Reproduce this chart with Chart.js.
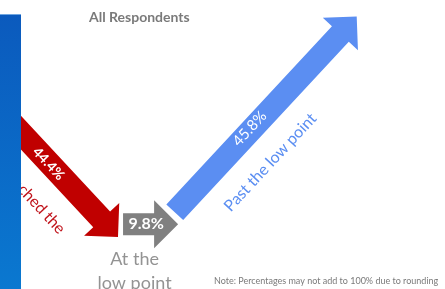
<!DOCTYPE html>
<html>
<head>
<meta charset="utf-8">
<script src="https://cdn.jsdelivr.net/npm/chart.js@4.4.0/dist/chart.umd.min.js"></script>
<style>
html, body { margin: 0; padding: 0; background: #fff; }
canvas { display: block; }
</style>
</head>
<body>
<canvas id="arrowChart" width="445" height="289"></canvas>
<script>
// data
const categories = [['Not yet reached the', 'low point'], ['At the', 'low point'], ['Past the low point']];
const values = [44.4, 9.8, 45.8];
const valueLabels = ['44.4%', '9.8%', '45.8%'];
const colors = ['#c00000', '#808080', '#5b8ef2'];
const textColors = ['#c0141c', '#939393', '#5b8ef2'];

// each arrow: unit direction and the point where it touches the middle
const directions = [[Math.SQRT1_2, -Math.SQRT1_2], [1, 0], [Math.SQRT1_2, Math.SQRT1_2]];
const anchors = [{x: 21.0, y: 8.6, atEnd: true}, {x: 21.9, y: 10.7}, {x: 31.1, y: 12.7}];

function arrowPoints(i) {
    const d = directions[i], a = anchors[i], v = values[i];
    if (a.atEnd) {
        return [{x: a.x - v * d[0], y: a.y - v * d[1]}, {x: a.x, y: a.y}];
    }
    return [{x: a.x, y: a.y}, {x: a.x + v * d[0], y: a.y + v * d[1]}];
}

function drawArrow(ctx, p0, p1, shaft, head, color) {
    const ang = Math.atan2(p1.y - p0.y, p1.x - p0.x);
    const len = Math.hypot(p1.x - p0.x, p1.y - p0.y);
    ctx.save();
    ctx.translate(p0.x, p0.y);
    ctx.rotate(ang);
    ctx.fillStyle = color;
    ctx.beginPath();
    ctx.moveTo(0, -shaft / 2);
    ctx.lineTo(len - head, -shaft / 2);
    ctx.lineTo(len - head, -head);
    ctx.lineTo(len, 0);
    ctx.lineTo(len - head, head);
    ctx.lineTo(len - head, shaft / 2);
    ctx.lineTo(0, shaft / 2);
    ctx.closePath();
    ctx.fill();
    ctx.restore();
    return {ang: ang, len: len};
}

function textAlong(ctx, p0, ang, along, perp, lines, font, color, align, lineH) {
    ctx.save();
    ctx.translate(p0.x, p0.y);
    ctx.rotate(ang);
    ctx.font = font;
    ctx.fillStyle = color;
    ctx.textAlign = align;
    ctx.textBaseline = 'middle';
    lines.forEach((t, k) => ctx.fillText(t, along, perp + k * lineH));
    ctx.restore();
}

const arrowPlugin = {
    id: 'arrows',
    afterDatasetsDraw(chart) {
        const ctx = chart.ctx;
        const shaft = 23, head = 24;
        const pts = [0, 1, 2].map(i => {
            const m = chart.getDatasetMeta(i).data;
            return [{x: m[0].x, y: m[0].y}, {x: m[1].x, y: m[1].y}];
        });

        // red: not yet reached
        let r = drawArrow(ctx, pts[0][0], pts[0][1], shaft, head, colors[0]);
        textAlong(ctx, pts[0][0], r.ang, r.len * 0.61, 1, [valueLabels[0]], 'bold 14px Lato', '#fff', 'center', 0);
        textAlong(ctx, pts[0][0], r.ang, r.len - 182, 37, categories[0], '16px Lato', textColors[0], 'left', 20);

        // gray: at the low point
        let g = drawArrow(ctx, pts[1][0], pts[1][1], 22, head, colors[1]);
        textAlong(ctx, pts[1][0], 0, g.len * 0.42, 0, [valueLabels[1]], 'bold 16px Lato', '#fff', 'center', 0);
        ctx.save();
        ctx.font = '18px Lato';
        ctx.fillStyle = textColors[1];
        ctx.textAlign = 'center';
        ctx.textBaseline = 'alphabetic';
        const cx = pts[1][0].x + (g.len - head) / 2 - 4;
        categories[1].forEach((t, k) => ctx.fillText(t, cx, 265 + k * 24));
        ctx.restore();

        // blue: past the low point
        let b = drawArrow(ctx, pts[2][0], pts[2][1], shaft, head, colors[2]);
        textAlong(ctx, pts[2][0], b.ang, b.len * 0.42, -2, [valueLabels[2]], '15px Lato', '#fff', 'center', 0);
        textAlong(ctx, pts[2][0], b.ang, b.len * 0.38, 36, categories[2], '16px Lato', textColors[2], 'center', 20);
    },
    afterDraw(chart) {
        const ctx = chart.ctx;
        // side band
        const grad = ctx.createLinearGradient(0, 14, 0, 289);
        grad.addColorStop(0, '#0b5abd');
        grad.addColorStop(1, '#0a78d0');
        ctx.fillStyle = grad;
        ctx.fillRect(0, 14, 21, 275);
        ctx.fillStyle = '#6fa6e0';
        ctx.fillRect(0, 14, 21, 1);

        ctx.save();
        ctx.font = 'bold 14px Lato';
        ctx.fillStyle = '#7a7a7a';
        ctx.textAlign = 'left';
        ctx.fillText('All Respondents', 89, 22);
        ctx.font = '9px Lato';
        ctx.fillStyle = '#7a7a7a';
        ctx.fillText('Note: Percentages may not add to 100% due to rounding', 214, 284);
        ctx.restore();
    }
};

const ctx = document.getElementById('arrowChart').getContext('2d');
const arrowChart = new Chart(ctx, {
    type: 'scatter',
    data: {
        datasets: [0, 1, 2].map(i => ({
            label: categories[i].join(' '),
            data: arrowPoints(i),
            pointRadius: 0,
            showLine: false
        }))
    },
    options: {
        responsive: false,
        animation: false,
        layout: { padding: 0 },
        scales: {
            x: { type: 'linear', min: 0, max: 79.2, display: false },
            y: { type: 'linear', min: 0, max: 47.8, display: false }
        },
        plugins: {
            legend: { display: false },
            tooltip: { enabled: false }
        }
    },
    plugins: [arrowPlugin]
});
</script>
</body>
</html>
